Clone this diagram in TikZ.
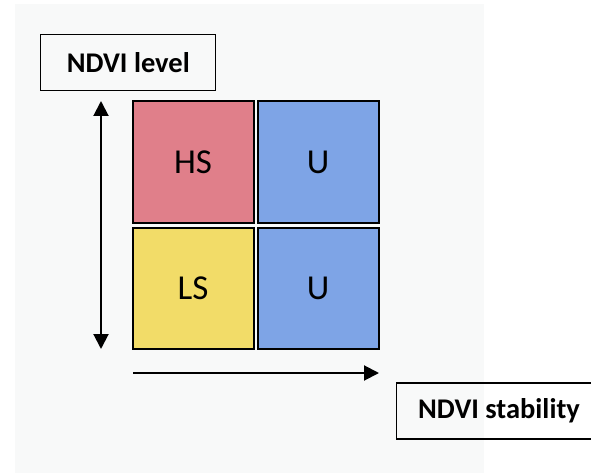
\documentclass[tikz,border=0pt]{standalone}
\usepackage{fontspec}
\setmainfont{Carlito}
\usepackage{xcolor}
\usetikzlibrary{arrows.meta, positioning}

\definecolor{hscol}{RGB}{224,127,138}
\definecolor{ucol}{RGB}{126,164,230}
\definecolor{lscol}{RGB}{242,220,104}
\definecolor{bgcol}{RGB}{248,249,249}

\tikzset{
    cell/.style={draw, line width=2pt, minimum size=121pt, inner sep=0pt, font=\fontsize{35}{40}\selectfont},
    axislabel/.style={draw, line width=1.3pt, minimum height=56pt, inner sep=0pt, font=\fontsize{28.5}{32}\selectfont\bfseries},
    axis/.style={line width=2pt, -{Triangle[length=15pt, width=15pt]}}
}

\begin{document}
\begin{tikzpicture}[x=1pt, y=-1pt]
    \useasboundingbox (0, 0) rectangle (591, 473);
    % Background panel
    \fill[bgcol] (15, 4) rectangle (484, 473);

    % Quadrants
    \node[cell, fill=hscol] (hs) at (193, 162) {HS};
    \node[cell, fill=ucol] (uhigh) at (318, 162) {U};
    \node[cell, fill=lscol] (ls) at (193, 288.5) {LS};
    \node[cell, fill=ucol] (ulow) at (318, 288.5) {U};

    % Axes
    \coordinate (vbot) at (101, 349);
    \coordinate (vtop) at (101, 101);
    \draw[axis, {Triangle[length=15pt, width=15pt]}-{Triangle[length=15pt, width=15pt]}] (vbot) -- (vtop);
    \coordinate (hleft) at (133, 373);
    \coordinate (hright) at (379, 373);
    \draw[axis] (hleft) -- (hright);

    % Axis labels
    \node[axislabel, minimum width=175pt] (level) at (128.3, 62.2) {NDVI level};
    \node[axislabel, minimum width=205pt] (stability) at (499, 411) {NDVI stability};
\end{tikzpicture}
\end{document}
